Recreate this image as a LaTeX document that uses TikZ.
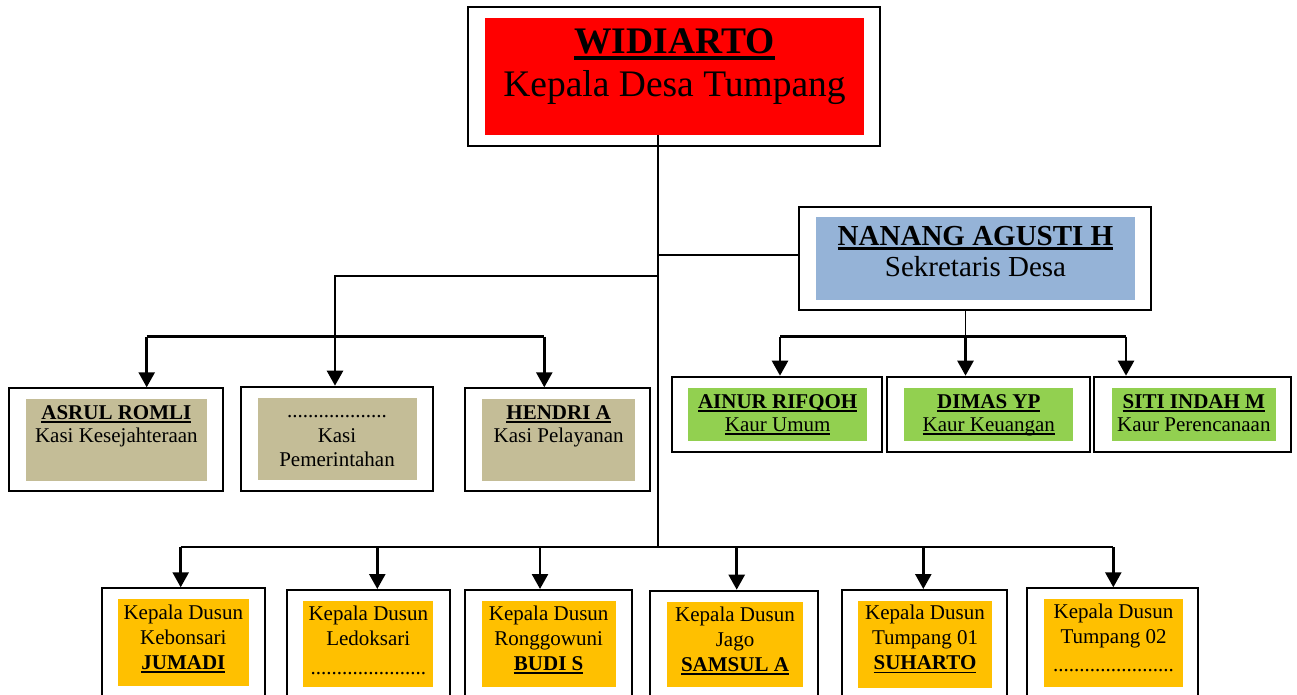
\documentclass[tikz,border=0pt]{standalone}
\usepackage{fontspec}
\setmainfont{Liberation Serif}
\usetikzlibrary{arrows.meta}
\definecolor{cRed}{HTML}{FF0000}
\definecolor{cBlue}{HTML}{95B3D7}
\definecolor{cTan}{HTML}{C4BD97}
\definecolor{cGreen}{HTML}{92D050}
\definecolor{cGold}{HTML}{FFC000}
\newcommand\myul[1]{\setbox0\hbox{#1}\leavevmode\rlap{\rule[-0.17em]{\wd0}{0.09em}}\box0}
\newcommand\mltext[3]{{\fontsize{#1}{#2}\selectfont\begin{tabular}[t]{@{}c@{}}#3\end{tabular}}}
\tikzset{
  outerbox/.style={draw, line width=2pt, inner sep=0pt, fill=white},
  innerbox/.style={inner sep=0pt, draw=none},
  label/.style={anchor=base, inner sep=0pt},
  conn/.style={line width=1.9pt},
  busline/.style={line width=2.5pt},
  arr/.style={line width=2.5pt, -{Triangle[width=16pt,length=15pt]}}
}
\begin{document}
\begin{tikzpicture}[x=1pt,y=-1pt]
\useasboundingbox (0,0) rectangle (1297,695);
\clip (0,0) rectangle (1297,695);

% ---- Kepala Desa
\node[outerbox, minimum width=411.7pt, minimum height=138.4pt] (top) at (674.2,76.5) {};
\node[innerbox, fill=cRed, minimum width=379pt, minimum height=116.7pt] (topIn) at (674.5,76.7) {};
\node[label] (topT) at (674.5,53.3) {\mltext{37.5}{43.4}{\bfseries\myul{WIDIARTO}\\Kepala Desa Tumpang}};

% ---- Sekretaris
\node[outerbox, minimum width=352pt, minimum height=103pt] (sec) at (975,258.5) {};
\node[innerbox, fill=cBlue, minimum width=319pt, minimum height=83pt] (secIn) at (975.5,258.5) {};
\node[label] (secT) at (975.5,245) {\mltext{29}{31.7}{\bfseries\myul{NANANG AGUSTI H}\\Sekretaris Desa}};

% ---- Kasi
\node[outerbox, minimum width=213.7pt, minimum height=102.7pt] (k1) at (115.85,439.65) {};
\node[innerbox, fill=cTan, minimum width=180.7pt, minimum height=81.7pt] (k1In) at (116.35,439.85) {};
\node[label] (k1T) at (116.35,419.3) {\mltext{21}{23.4}{\bfseries\myul{ASRUL ROMLI}\\Kasi Kesejahteraan}};

\node[outerbox, minimum width=191.7pt, minimum height=104.3pt] (k2) at (336.85,438.85) {};
\node[innerbox, fill=cTan, minimum width=159.3pt, minimum height=81.7pt] (k2In) at (337.35,439.15) {};
\node[label] (k2T) at (337,417.3) {\mltext{21}{24.7}{...................\\Kasi\\Pemerintahan}};

\node[outerbox, minimum width=185pt, minimum height=102.4pt] (k3) at (557.5,439.5) {};
\node[innerbox, fill=cTan, minimum width=152.7pt, minimum height=81.7pt] (k3In) at (558.65,439.85) {};
\node[label] (k3T) at (558.65,419.3) {\mltext{21}{23.4}{\bfseries\myul{HENDRI A}\\Kasi Pelayanan}};

% ---- Kaur
\node[outerbox, minimum width=210pt, minimum height=75pt] (u1) at (776.7,414.2) {};
\node[innerbox, fill=cGreen, minimum width=178.7pt, minimum height=52.4pt] (u1In) at (777.65,414.5) {};
\node[label] (u1T) at (777.65,408.3) {\mltext{21}{23.4}{\bfseries\myul{AINUR RIFQOH}\\\myul{Kaur Umum}}};

\node[outerbox, minimum width=202.7pt, minimum height=75pt] (u2) at (988.65,414.2) {};
\node[innerbox, fill=cGreen, minimum width=169pt, minimum height=52.4pt] (u2In) at (988.8,414.5) {};
\node[label] (u2T) at (988.8,408.3) {\mltext{21}{23.4}{\bfseries\myul{DIMAS YP}\\\myul{Kaur Keuangan}}};

\node[outerbox, minimum width=196.7pt, minimum height=75pt] (u3) at (1192.65,414.2) {};
\node[innerbox, fill=cGreen, minimum width=164.3pt, minimum height=52.4pt] (u3In) at (1193.85,414.5) {};
\node[label] (u3T) at (1193.85,408.3) {\mltext{21}{23.4}{\bfseries\myul{SITI INDAH M}\\Kaur Perencanaan}};

% ---- Kepala Dusun
\node[outerbox, minimum width=163.3pt, minimum height=131.7pt] (d1) at (183.35,654.15) {};
\node[innerbox, fill=cGold, minimum width=130.7pt, minimum height=86.7pt] (d1In) at (183.35,642.35) {};
\node[label] (d1T) at (183.35,619) {\mltext{21}{25.1}{Kepala Dusun\\Kebonsari\\\bfseries\myul{JUMADI}}};

\node[outerbox, minimum width=163.3pt, minimum height=130pt] (d2) at (368.35,655) {};
\node[innerbox, fill=cGold, minimum width=130pt, minimum height=85.7pt] (d2In) at (368.3,643.85) {};
\node[label] (d2T) at (368.3,620) {\mltext{21}{25}{Kepala Dusun\\Ledoksari\\[4pt]......................}};

\node[outerbox, minimum width=166.7pt, minimum height=130pt] (d3) at (548.35,655) {};
\node[innerbox, fill=cGold, minimum width=134pt, minimum height=85.7pt] (d3In) at (548.7,643.85) {};
\node[label] (d3T) at (548.7,620) {\mltext{21}{25}{Kepala Dusun\\Ronggowuni\\\bfseries\myul{BUDI S}}};

\node[outerbox, minimum width=167.7pt, minimum height=129.3pt] (d4) at (733.85,655.35) {};
\node[innerbox, fill=cGold, minimum width=135.4pt, minimum height=84.4pt] (d4In) at (735,644.5) {};
\node[label] (d4T) at (735,621) {\mltext{21}{25.3}{Kepala Dusun\\Jago\\\bfseries\myul{SAMSUL A}}};

\node[outerbox, minimum width=165.6pt, minimum height=130pt] (d5) at (924.5,655) {};
\node[innerbox, fill=cGold, minimum width=133.4pt, minimum height=86.7pt] (d5In) at (925,644.35) {};
\node[label] (d5T) at (925,619.3) {\mltext{21}{25.3}{Kepala Dusun\\Tumpang 01\\\bfseries\myul{SUHARTO}}};

\node[outerbox, minimum width=171pt, minimum height=131.7pt] (d6) at (1112.8,654.15) {};
\node[innerbox, fill=cGold, minimum width=138.4pt, minimum height=87.7pt] (d6In) at (1113.5,642.85) {};
\node[label] (d6T) at (1113.5,618.3) {\mltext{21}{25}{Kepala Dusun\\Tumpang 02\\[3.4pt].......................}};

% ---- connector points
\coordinate (busB) at (658,547);
\coordinate (secJ) at (658,255);
\coordinate (kJ) at (658,276);
\coordinate (kb1) at (146.7,336.7);
\coordinate (kb2) at (335,336.7);
\coordinate (kb3) at (544.3,336.7);
\coordinate (ub1) at (780,336.7);
\coordinate (ub2) at (965.5,336.7);
\coordinate (ub3) at (1126,336.7);
\coordinate (db1) at (180.7,547);
\coordinate (db2) at (377.3,547);
\coordinate (db3) at (540,547);
\coordinate (db4) at (736.7,547);
\coordinate (db5) at (923.3,547);
\coordinate (db6) at (1113.3,547);

% trunk and branches
\draw[conn] (topIn.south -| busB) -- (busB);
\draw[conn] (secJ) -- (secJ -| sec.west);
\draw[conn] (kJ) -| (kb2);
\draw[conn] (sec.south -| ub2) -- (ub2);

% kasi
\draw[busline] (kb1) -- (kb3);
\draw[arr] (kb1) -- (kb1 |- k1.north);
\draw[arr] (kb2) -- (kb2 |- k2.north);
\draw[arr] (kb3) -- (kb3 |- k3.north);

% kaur
\draw[busline] (ub1) -- (ub3);
\draw[arr] (ub1) -- (ub1 |- u1.north);
\draw[arr] (ub2) -- (ub2 |- u2.north);
\draw[arr] (ub3) -- (ub3 |- u3.north);

% dusun
\draw[busline] (db1) -- (db6);
\draw[arr] (db1) -- (db1 |- d1.north);
\draw[arr] (db2) -- (db2 |- d2.north);
\draw[arr] (db3) -- (db3 |- d3.north);
\draw[arr] (db4) -- (db4 |- d4.north);
\draw[arr] (db5) -- (db5 |- d5.north);
\draw[arr] (db6) -- (db6 |- d6.north);
\end{tikzpicture}
\end{document}
